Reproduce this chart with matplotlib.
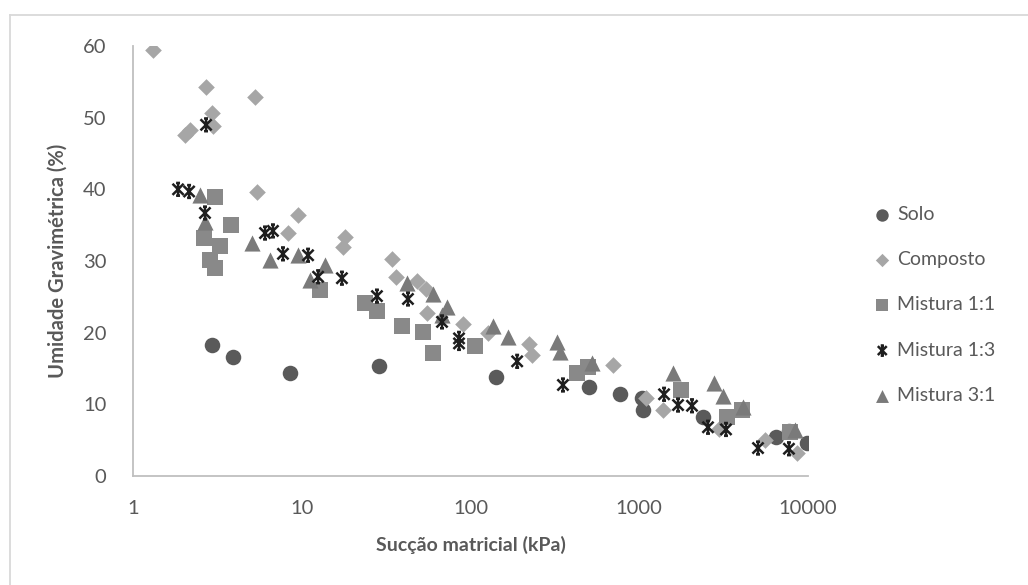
import matplotlib
matplotlib.use("Agg")
import matplotlib.pyplot as plt
from matplotlib.path import Path
from matplotlib.lines import Line2D

# Soil-water retention data: matric suction (kPa) vs gravimetric moisture (%)
solo_x = [2.94, 3.9, 8.5, 28.7, 142, 504, 769, 1038, 1052, 2387, 6457, 7700, 9860]
solo_y = [18.3, 16.6, 14.4, 15.3, 13.8, 12.4, 11.4, 10.9, 9.2, 8.2, 5.4, 6.3, 4.6]

composto_x = [1.31, 2.71, 5.28, 2.94, 2.97, 2.03, 2.18, 5.43, 9.5, 8.3, 18.0, 17.5,
              34.3, 36.2, 48.2, 54.5, 55.3, 90.3, 127, 222, 231, 699, 1096, 1381,
              2970, 5560, 8600]
composto_y = [59.5, 54.3, 52.9, 50.6, 48.8, 47.6, 48.3, 39.6, 36.4, 33.9, 33.3, 31.9,
              30.3, 27.8, 27.2, 26.1, 22.7, 21.2, 19.9, 18.4, 16.9, 15.5, 10.9, 9.2,
              6.5, 5.0, 3.2]

m11_x = [3.06, 3.8, 2.65, 3.28, 2.86, 3.06, 12.8, 23.7, 27.9, 39.3, 52.3, 60, 106,
         428, 497, 1767, 3313, 4064, 7800]
m11_y = [39.0, 35.0, 33.2, 32.1, 30.1, 29.0, 25.9, 24.1, 23.0, 20.9, 20.1, 17.1, 18.1,
         14.4, 15.2, 12.0, 8.2, 9.2, 6.1]

m13_x = [2.71, 1.85, 2.15, 2.67, 6.06, 6.75, 7.74, 10.9, 12.5, 17.3, 27.9, 42.6, 67.8,
         85.5, 85.5, 189, 353, 1403, 1698, 2054, 2555, 3266, 5056, 7710]
m13_y = [49.0, 40.0, 39.7, 36.7, 33.9, 34.2, 31.0, 30.8, 27.8, 27.6, 25.1, 24.7, 21.5,
         19.2, 18.5, 16.0, 12.7, 11.4, 9.9, 9.8, 6.8, 6.5, 3.9, 3.8]

m31_x = [2.49, 2.67, 5.1, 6.5, 9.5, 13.7, 11.2, 42.0, 60, 72.6, 67.8, 136, 167, 326,
         339, 525, 1585, 2775, 3137, 4100, 8360]
m31_y = [39.2, 35.4, 32.5, 30.1, 30.8, 29.4, 27.3, 26.9, 25.4, 23.6, 22.5, 20.9, 19.4,
         18.7, 17.3, 15.8, 14.4, 13.0, 11.2, 9.6, 6.4]

x_ticks = [1, 10, 100, 1000, 10000]
y_ticks = [0, 10, 20, 30, 40, 50, 60]

TEXT = "#595959"
plt.rcParams["font.family"] = ["Lato", "DejaVu Sans"]

# Asterisk-like star marker: an X crossed by a vertical bar with short caps
star = Path(
    [(-1, -1), (1, 1), (-1, 1), (1, -1), (0, -1.15), (0, 1.15),
     (-0.35, 1.15), (0.35, 1.15), (-0.35, -1.15), (0.35, -1.15)],
    [Path.MOVETO, Path.LINETO] * 5,
)

fig = plt.figure(figsize=(10.28, 5.85), dpi=100)
ax = fig.add_axes([133 / 1028, 1 - 476 / 585, (808 - 133) / 1028, (476 - 46) / 585])

ax.scatter(solo_x, solo_y, marker="o", s=125, color="#5a5a5a", linewidths=0,
           label="Solo", zorder=3)
ax.scatter(composto_x, composto_y, marker="D", s=72, color="#a6a6a6", linewidths=0,
           label="Composto", zorder=3)
ax.scatter(m11_x, m11_y, marker="s", s=125, color="#898989", linewidths=0,
           label="Mistura 1:1", zorder=3)
ax.scatter(m13_x, m13_y, marker=star, s=85, facecolor="none", edgecolor="#1e1e1e",
           linewidths=1.8, label="Mistura 1:3", zorder=4)
ax.scatter(m31_x, m31_y, marker="^", s=135, color="#7a7a7a", linewidths=0,
           label="Mistura 3:1", zorder=3)

ax.set_xscale("log")
ax.set_xlim(1, 10000)
ax.set_ylim(0, 60)
ax.set_xticks(x_ticks)
ax.set_xticklabels([str(v) for v in x_ticks])
ax.set_yticks(y_ticks)
ax.minorticks_off()
ax.tick_params(axis="both", length=0, labelsize=14.5, colors=TEXT)
ax.tick_params(axis="x", pad=17)
ax.tick_params(axis="y", pad=19)

for side in ("top", "right"):
    ax.spines[side].set_visible(False)
for side in ("left", "bottom"):
    ax.spines[side].set_color("#bfbfbf")
    ax.spines[side].set_linewidth(1.3)

ax.set_xlabel("Sucção matricial (kPa)", fontsize=14, fontweight="bold",
              color=TEXT, labelpad=14)
ax.set_ylabel("Umidade Gravimétrica (%)", fontsize=14.5, fontweight="bold",
              color=TEXT, labelpad=11)

leg = ax.legend(loc="center left", bbox_to_anchor=(857 / 1028, 1 - 305 / 585),
                bbox_transform=fig.transFigure, frameon=False, fontsize=14,
                labelspacing=1.45, handlelength=0.8, handletextpad=0.35,
                markerscale=0.8)
for t in leg.get_texts():
    t.set_color(TEXT)

# Chart-area border (left and top edges)
fig.add_artist(Line2D([10 / 1028, 10 / 1028], [0, 1 - 15 / 585],
                      transform=fig.transFigure, color="#d9d9d9", linewidth=1.3))
fig.add_artist(Line2D([10 / 1028, 1], [1 - 15 / 585, 1 - 15 / 585],
                      transform=fig.transFigure, color="#d9d9d9", linewidth=1.3))

fig.savefig("out.png", dpi=100)
